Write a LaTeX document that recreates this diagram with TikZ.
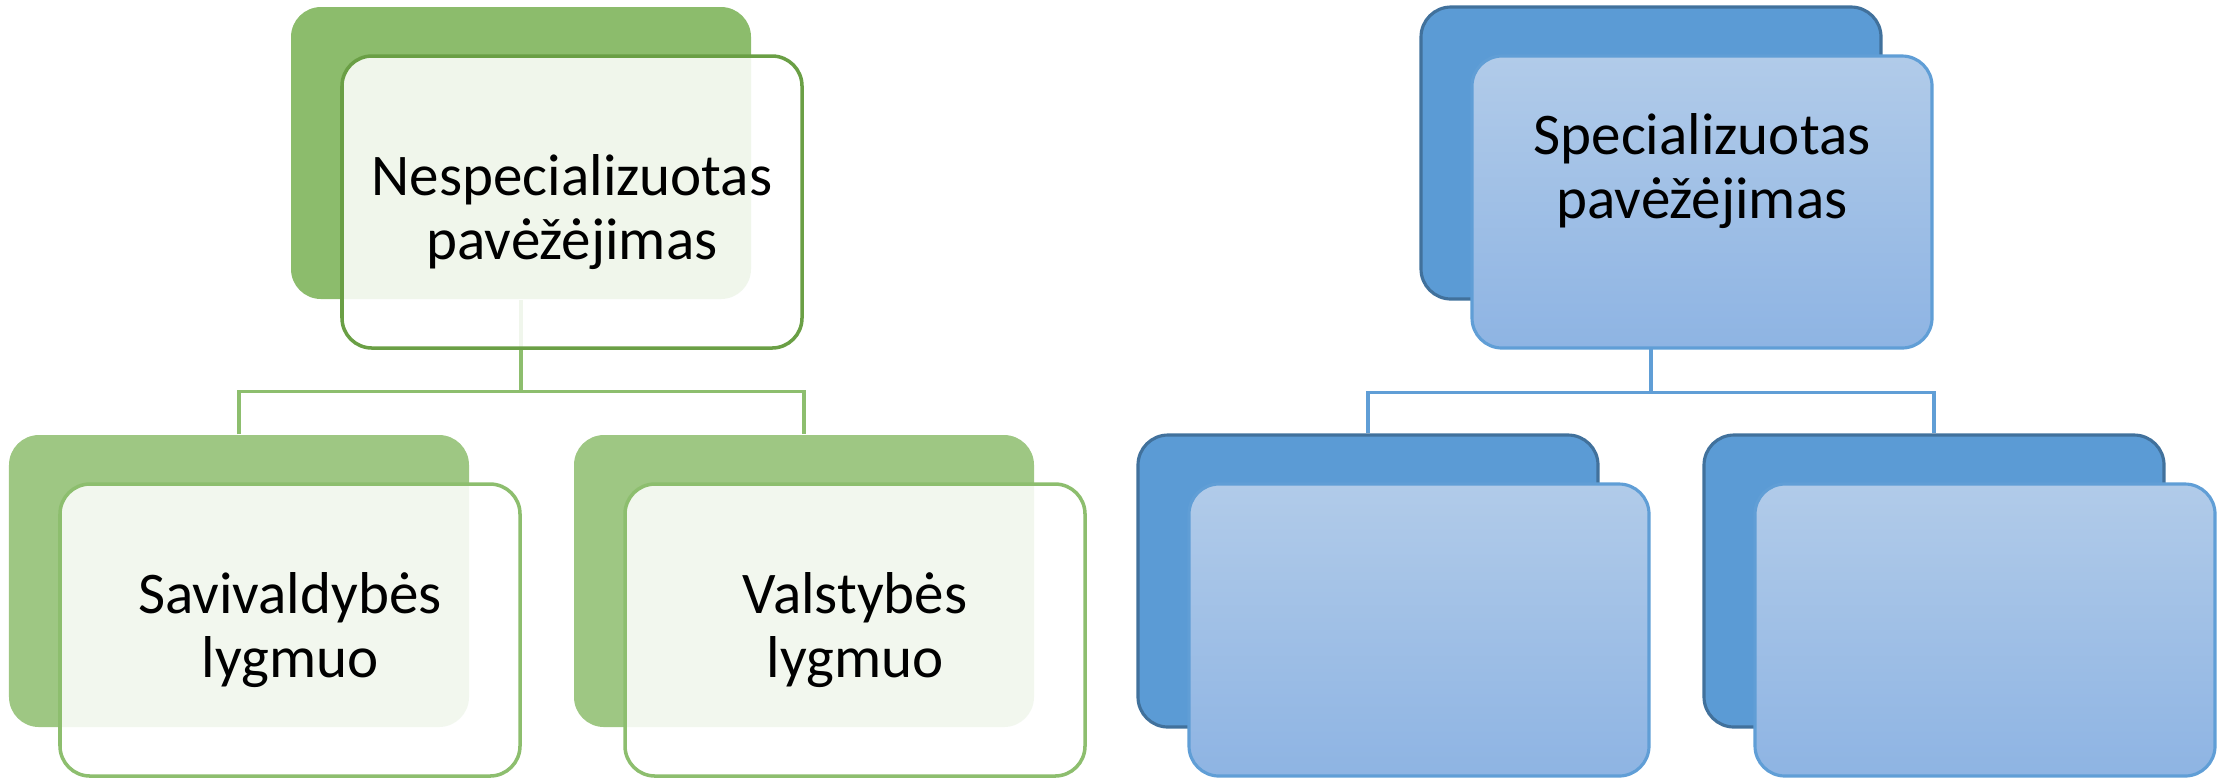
\documentclass[tikz,border=0pt]{standalone}
\usepackage{fontspec}
\setmainfont{Carlito}
\usetikzlibrary{positioning, calc, shapes}
\definecolor{Green-back}{RGB}{140,188,108}
\definecolor{Green-lite}{RGB}{158,199,131}
\definecolor{Green-dark}{RGB}{106,159,69}
\definecolor{Green-line}{RGB}{141,190,110}
\definecolor{Blue-back}{RGB}{91,155,213}
\definecolor{Blue-dark}{RGB}{65,113,156}
\definecolor{Blue-top}{RGB}{177,203,233}
\definecolor{Blue-bot}{RGB}{142,180,227}
\definecolor{Blue-line}{RGB}{96,158,214}

\tikzset{
  cardtext/.style={align=center, font=\fontsize{16.8}{18}\selectfont},
  card/.style={cardtext, rounded corners=0.3cm, minimum width=4.6cm, minimum height=2.92cm, inner sep=0pt},
  gback/.style={card, fill=Green-back},
  gbacklite/.style={card, fill=Green-lite},
  gfront/.style={card, draw=Green-dark, line width=1pt, fill=white, fill opacity=0.87, text opacity=1},
  gfrontlite/.style={card, draw=Green-line, line width=1pt, fill=white, fill opacity=0.87, text opacity=1},
  bback/.style={card, fill=Blue-back, draw=Blue-dark, line width=0.9pt},
  bfront/.style={card, top color=Blue-top, bottom color=Blue-bot, draw=Blue-line, line width=0.9pt},
  gline/.style={draw=Green-line, line width=0.9pt},
  bline/.style={draw=Blue-line, line width=0.9pt}
}

\begin{document}
\begin{tikzpicture}
      \useasboundingbox (0,0) rectangle (22.32,-7.78);

      % back cards
      \node[gback]     (nes) at ( 5.21,-1.53) {};
      \node[gbacklite] (sav) at ( 2.39,-5.81) {};
      \node[gbacklite] (val) at ( 8.04,-5.81) {};

      \node[bback]     (spe) at (16.51,-1.53) {};
      \node[bback]     (bl)  at (13.68,-5.81) {};
      \node[bback]     (br)  at (19.34,-5.81) {};

      % connectors
      \coordinate (nesj) at ($(nes.south)+(0,-0.92)$);
      \coordinate (spej) at ($(spe.south)+(0,-0.92)$);
      \draw[gline] (nes.south) -- (nesj);
      \draw[gline] (sav.north) |- (nesj) -| (val.north);
      \draw[bline] (spe.south) -- (spej);
      \draw[bline] (bl.north)  |- (spej) -| (br.north);

      % front cards
      \node[gfront]     (nesf) at ($(nes)+(0.51,-0.49)$) {};
      \node[gfrontlite] (savf) at ($(sav)+(0.51,-0.49)$) {Savivaldybės\\lygmuo};
      \node[gfrontlite] (valf) at ($(val)+(0.51,-0.49)$) {Valstybės\\lygmuo};

      \node[bfront] (spef) at ($(spe)+(0.51,-0.49)$) {};
      \node[bfront] (blf)  at ($(bl)+(0.51,-0.49)$)  {};
      \node[bfront] (brf)  at ($(br)+(0.51,-0.49)$)  {};

      % top texts
      \node[cardtext] (nest) at ($(nesf)+(0,-0.10)$) {Nespecializuotas\\pavėžėjimas};
      \node[cardtext] (spet) at ($(spef)+(0,0.31)$)  {Specializuotas\\pavėžėjimas};
\end{tikzpicture}
\end{document}
